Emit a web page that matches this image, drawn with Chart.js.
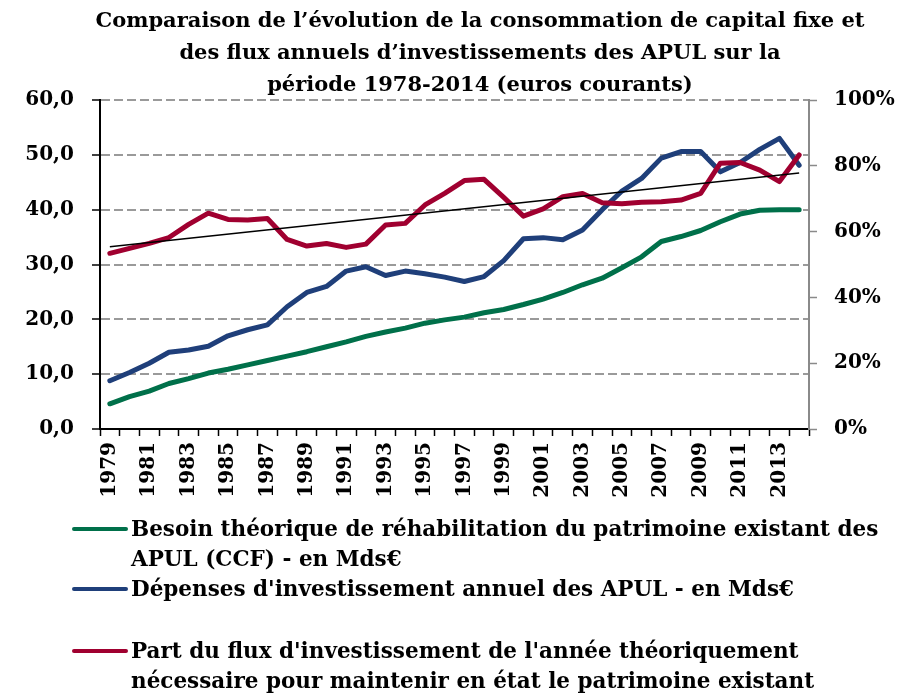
<!DOCTYPE html>
<html lang="fr">
<head>
<meta charset="utf-8">
<script src="https://cdn.jsdelivr.net/npm/chart.js@4.4.1/dist/chart.umd.min.js"></script>
<style>
  body { margin: 0; background: #fff; }
  .wrap { position: relative; width: 921px; height: 694px; }
  .wrap canvas { position: absolute; left: 0; top: 0; }
  .title {
    position: absolute; left: 0; top: 4px; width: 960px;
    text-align: center; font: bold 21px "DejaVu Serif"; line-height: 32px; color: #000;
  }
  .legend { position: absolute; left: 72px; top: 514px; font: bold 21.5px "DejaVu Serif"; line-height: 30px; color: #000; }
  .legend .item { display: flex; align-items: flex-start; white-space: nowrap; }
  .legend .item.gap { margin-top: 32px; }
  .legend .mark { width: 56px; height: 4px; border-radius: 2px; margin-top: 13px; margin-right: 3px; flex: none; }
</style>
</head>
<body>
<div class="wrap">
  <canvas id="chart" width="921" height="694"></canvas>
  <div class="title">Comparaison de l’évolution de la consommation de capital fixe et<br>des flux annuels d’investissements des APUL sur la<br>période 1978-2014 (euros courants)</div>
  <div class="legend" id="legend"></div>
</div>
<script>
const years = [
  "1979", "1980", "1981", "1982", "1983", "1984", "1985", "1986", "1987", "1988",
  "1989", "1990", "1991", "1992", "1993", "1994", "1995", "1996", "1997", "1998",
  "1999", "2000", "2001", "2002", "2003", "2004", "2005", "2006", "2007", "2008",
  "2009", "2010", "2011", "2012", "2013", "2014",
];

// Mds€
const besoinCCF = [
  4.6, 5.9, 6.9, 8.3, 9.2, 10.2, 10.9, 11.7, 12.5, 13.3,
  14.1, 15.0, 15.9, 16.9, 17.7, 18.4, 19.3, 19.9, 20.4, 21.2,
  21.8, 22.7, 23.7, 24.9, 26.3, 27.5, 29.4, 31.4, 34.2, 35.1,
  36.2, 37.8, 39.2, 39.9, 40.0, 40.0,
];
const depensesInvest = [
  8.8, 10.3, 12.0, 14.0, 14.4, 15.1, 17.0, 18.1, 19.0, 22.3,
  24.9, 26.0, 28.8, 29.6, 28.0, 28.8, 28.3, 27.7, 26.9, 27.8,
  30.7, 34.7, 34.9, 34.5, 36.3, 40.0, 43.4, 45.7, 49.4, 50.6,
  50.6, 46.9, 48.6, 51.0, 53.0, 48.1,
];
// %
const partFlux = [
  53.4, 54.9, 56.4, 58.2, 62.2, 65.6, 63.7, 63.5, 64.0, 57.6,
  55.6, 56.4, 55.2, 56.2, 62.0, 62.5, 68.1, 71.6, 75.5, 75.9,
  70.4, 64.7, 66.9, 70.6, 71.6, 68.8, 68.5, 68.9, 69.1, 69.6,
  71.6, 80.8, 81.0, 78.7, 75.2, 83.3,
];
// linear trend of partFlux, read at its two ends
const trendStart = 55.4;
const trendEnd = 77.8;

const leftTicks = { min: 0, max: 60, step: 10 };
const rightTicks = { min: 0, max: 100, step: 20 };

const COLOR = {
  green: "#00704a",
  blue: "#1f3f7a",
  red: "#a00030",
  grid: "#9a9a9a",
  rightAxis: "#8a8a8a",
};

const tickFont = { family: "DejaVu Serif", size: 20, weight: "bold" };

const trendLine = years.map((_, i) =>
  i === 0 ? trendStart : i === years.length - 1 ? trendEnd : null
);

const series = [
  { label: "Besoin théorique de réhabilitation du patrimoine existant des<br>APUL (CCF) - en Mds€", data: besoinCCF, color: COLOR.green, axis: "y", order: 3 },
  { label: "Dépenses d'investissement annuel des APUL - en Mds€", data: depensesInvest, color: COLOR.blue, axis: "y", order: 2 },
  { label: "Part du flux d'investissement de l'année théoriquement<br>nécessaire pour maintenir en état le patrimoine existant", data: partFlux, color: COLOR.red, axis: "y1", order: 1 },
];

const datasets = series.map((s) => ({
  label: s.label,
  data: s.data,
  yAxisID: s.axis,
  borderColor: s.color,
  backgroundColor: s.color,
  borderWidth: 5,
  pointRadius: 0,
  tension: 0,
  order: s.order,
  borderCapStyle: "round",
  borderJoinStyle: "round",
}));

datasets.push({
  label: "Tendance",
  data: trendLine,
  yAxisID: "y1",
  borderColor: "#000",
  borderWidth: 1.5,
  pointRadius: 0,
  spanGaps: true,
  order: 0,
});

new Chart(document.getElementById("chart"), {
  type: "line",
  data: { labels: years, datasets },
  options: {
    responsive: false,
    animation: false,
    layout: { padding: { top: 100, bottom: 175, left: 0, right: 0 } },
    plugins: {
      legend: { display: false },
      tooltip: { enabled: false },
    },
    scales: {
      x: {
        type: "category",
        offset: true,
        grid: {
          offset: true,
          drawOnChartArea: false,
          tickLength: 7,
          tickColor: "#000",
          tickWidth: 1.5,
        },
        border: { color: "#000", width: 2 },
        ticks: {
          autoSkip: false,
          maxRotation: 90,
          minRotation: 90,
          padding: 6,
          color: "#000",
          font: tickFont,
          callback: (v, i) => (i % 2 === 0 ? years[i] : ""),
        },
        afterFit: (scale) => {
          scale.height = 90;
        },
      },
      y: {
        position: "left",
        min: leftTicks.min,
        max: leftTicks.max,
        grid: {
          color: (ctx) => (ctx.tick && ctx.tick.value === 0 ? "rgba(0,0,0,0)" : COLOR.grid),
          lineWidth: 2,
          tickColor: "#000",
          tickLength: 8,
          tickWidth: 1.5,
          tickBorderDash: [],
        },
        border: { color: "#000", width: 2, dash: [9, 4] },
        ticks: {
          stepSize: leftTicks.step,
          padding: 18,
          color: "#000",
          font: tickFont,
          callback: (v) => v.toFixed(1).replace(".", ","),
        },
        afterFit: (scale) => {
          scale.width = 100;
        },
      },
      y1: {
        position: "right",
        min: rightTicks.min,
        max: rightTicks.max,
        grid: {
          drawOnChartArea: false,
          tickColor: COLOR.rightAxis,
          tickLength: 8,
          tickWidth: 1.5,
        },
        border: { color: COLOR.rightAxis, width: 2 },
        ticks: {
          stepSize: rightTicks.step,
          padding: 17,
          color: "#000",
          font: tickFont,
          callback: (v) => v + "%",
        },
        afterFit: (scale) => {
          scale.width = 112;
        },
      },
    },
  },
});

// legend below the chart, as in the original
document.getElementById("legend").innerHTML = series
  .map(
    (s, i) => `
    <div class="item${i === 2 ? " gap" : ""}">
      <span class="mark" style="background:${s.color}"></span>
      <span>${s.label}</span>
    </div>`
  )
  .join("");
</script>
</body>
</html>
